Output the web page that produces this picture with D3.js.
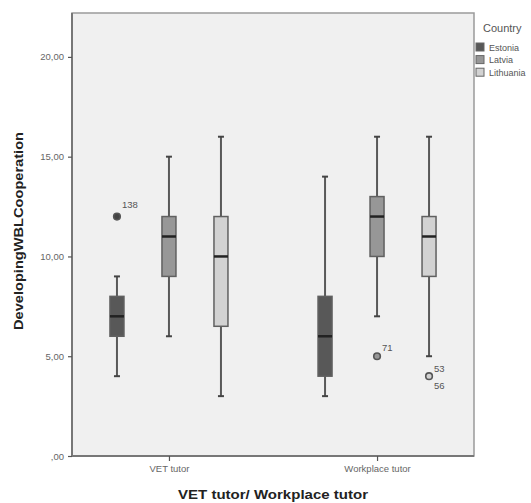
<!DOCTYPE html>
<html>
<head>
<meta charset="utf-8">
<script src="https://cdn.jsdelivr.net/npm/d3@7"></script>
<style>
  body { margin: 0; background: #fff; }
  svg text { font-family: "Liberation Sans", Arial, sans-serif; }
</style>
</head>
<body>
<div id="chart"></div>
<script>
// ── Data ─────────────────────────────────────────────────────────────────
const groups    = ['VET tutor', 'Workplace tutor'];
const countries = ['Estonia', 'Latvia', 'Lithuania'];
const yTicks    = [0, 5, 10, 15, 20];

// box stats per country, one entry per group: [whiskerLow, q1, median, q3, whiskerHigh]
const estoniaStats   = [[4, 6, 7, 8, 9],    [3, 4, 6, 8, 14]];
const latviaStats    = [[6, 9, 11, 12, 15], [7, 10, 12, 13, 16]];
const lithuaniaStats = [[3, 6.5, 10, 12, 16], [5, 9, 11, 12, 16]];

// outliers: [group, country, value, labels]
const outliers = [
    ['VET tutor', 'Estonia', 12, ['138']],
    ['Workplace tutor', 'Latvia', 5, ['71']],
    ['Workplace tutor', 'Lithuania', 4, ['53', '56']]
];

const colors = { Estonia: '#585858', Latvia: '#979797', Lithuania: '#d2d2d2' };

// ── Layout ────────────────────────────────────────────────────────────────
const width = 531, height = 503;
const plot = { left: 72, right: 474, top: 13, bottom: 456 };

const svg = d3.select('#chart').append('svg')
    .attr('width', width).attr('height', height);

const x = d3.scalePoint().domain(groups)
    .range([plot.left, plot.right]).padding(0.466);
const xSub = d3.scalePoint().domain(countries).range([-52, 52]);
const y = d3.scaleLinear().domain([0, 22.2]).range([plot.bottom, plot.top]);

// plot background + frame
svg.append('rect')
    .attr('x', plot.left).attr('y', plot.top)
    .attr('width', plot.right - plot.left).attr('height', plot.bottom - plot.top)
    .attr('fill', '#f0f0f0').attr('stroke', '#9a9a9a').attr('stroke-width', 1.5);

// ── Axes ──────────────────────────────────────────────────────────────────
const yAxis = svg.append('g')
    .attr('transform', 'translate(' + plot.left + ',0)')
    .call(d3.axisLeft(y).tickValues(yTicks).tickSize(4).tickPadding(4)
        .tickFormat(d => d === 0 ? ',00' : d3.format('.2f')(d).replace('.', ',')));
yAxis.select('.domain').attr('stroke', '#777').attr('stroke-width', 2)
    .attr('d', 'M0,' + plot.top + 'V' + plot.bottom);
yAxis.selectAll('.tick line').attr('stroke', '#555').attr('stroke-width', 1.2);
yAxis.selectAll('.tick text').style('font-size', '9.5px').attr('fill', '#666');

const xAxis = svg.append('g')
    .attr('transform', 'translate(0,' + plot.bottom + ')')
    .call(d3.axisBottom(x).tickSize(5).tickPadding(4));
xAxis.select('.domain').attr('stroke', '#777').attr('stroke-width', 2)
    .attr('d', 'M' + plot.left + ',0H' + plot.right);
xAxis.selectAll('.tick line').attr('stroke', '#555').attr('stroke-width', 1.2);
xAxis.selectAll('.tick text').style('font-size', '9.5px').attr('fill', '#666');

// axis titles
svg.append('text')
    .attr('transform', 'translate(23,231) rotate(-90)')
    .attr('text-anchor', 'middle')
    .attr('textLength', 198).attr('lengthAdjust', 'spacingAndGlyphs')
    .style('font-size', '13px').style('font-weight', '700').attr('fill', '#222')
    .text('DevelopingWBLCooperation');

svg.append('text')
    .attr('x', 273).attr('y', 499)
    .attr('text-anchor', 'middle')
    .attr('textLength', 190).attr('lengthAdjust', 'spacingAndGlyphs')
    .style('font-size', '12.5px').style('font-weight', '700').attr('fill', '#222')
    .text('VET tutor/ Workplace tutor');

// ── Boxes ─────────────────────────────────────────────────────────────────
const statsByCountry = { Estonia: estoniaStats, Latvia: latviaStats, Lithuania: lithuaniaStats };
const boxes = [];
countries.forEach(c => groups.forEach((g, i) => {
    const s = statsByCountry[c][i];
    boxes.push({ group: g, country: c, lo: s[0], q1: s[1], med: s[2], q3: s[3], hi: s[4] });
}));

const boxW = 14, capW = 6;
const bx = d => x(d.group) + xSub(d.country);

const bg = svg.selectAll('.box').data(boxes).join('g').attr('class', 'box');

bg.append('line')
    .attr('x1', bx).attr('x2', bx)
    .attr('y1', d => y(d.lo)).attr('y2', d => y(d.hi))
    .attr('stroke', '#595959').attr('stroke-width', 2);
bg.append('line')
    .attr('x1', d => bx(d) - capW / 2).attr('x2', d => bx(d) + capW / 2)
    .attr('y1', d => y(d.hi)).attr('y2', d => y(d.hi))
    .attr('stroke', '#444').attr('stroke-width', 2);
bg.append('line')
    .attr('x1', d => bx(d) - capW / 2).attr('x2', d => bx(d) + capW / 2)
    .attr('y1', d => y(d.lo)).attr('y2', d => y(d.lo))
    .attr('stroke', '#444').attr('stroke-width', 2);
bg.append('rect')
    .attr('x', d => bx(d) - boxW / 2).attr('width', boxW)
    .attr('y', d => y(d.q3)).attr('height', d => y(d.q1) - y(d.q3))
    .attr('fill', d => colors[d.country])
    .attr('stroke', '#606060').attr('stroke-width', 1.5);
bg.append('line')
    .attr('x1', d => bx(d) - boxW / 2).attr('x2', d => bx(d) + boxW / 2)
    .attr('y1', d => y(d.med)).attr('y2', d => y(d.med))
    .attr('stroke', '#222').attr('stroke-width', 2.5);

// ── Outliers ──────────────────────────────────────────────────────────────
const og = svg.selectAll('.outlier').data(outliers).join('g').attr('class', 'outlier');
og.append('circle')
    .attr('cx', d => x(d[0]) + xSub(d[1]))
    .attr('cy', d => y(d[2]))
    .attr('r', 3.3)
    .attr('fill', d => d[1] === 'Estonia' ? '#444' : colors[d[1]])
    .attr('stroke', '#555').attr('stroke-width', 1.6);
og.each(function (d) {
    const g = d3.select(this);
    d[3].forEach((lab, k) => {
        g.append('text')
            .attr('x', x(d[0]) + xSub(d[1]) + 5)
            .attr('y', y(d[2]) + (d[3].length > 1 ? (k === 0 ? -4 : 13) : (d[1] === 'Estonia' ? -9 : -5)))
            .style('font-size', '9.5px').attr('fill', '#555')
            .text(lab);
    });
});

// ── Legend ────────────────────────────────────────────────────────────────
svg.append('text')
    .attr('x', 483).attr('y', 32)
    .style('font-size', '11px').attr('fill', '#555')
    .text('Country');

const lg = svg.selectAll('.leg').data(countries).join('g')
    .attr('class', 'leg')
    .attr('transform', (d, i) => 'translate(476,' + (43 + i * 12.6) + ')');
lg.append('rect')
    .attr('width', 8).attr('height', 8)
    .attr('fill', d => colors[d]).attr('stroke', '#666').attr('stroke-width', 1);
lg.append('text')
    .attr('x', 13).attr('y', 7.5)
    .style('font-size', '9px').attr('fill', '#555')
    .text(d => d);
</script>
</body>
</html>
